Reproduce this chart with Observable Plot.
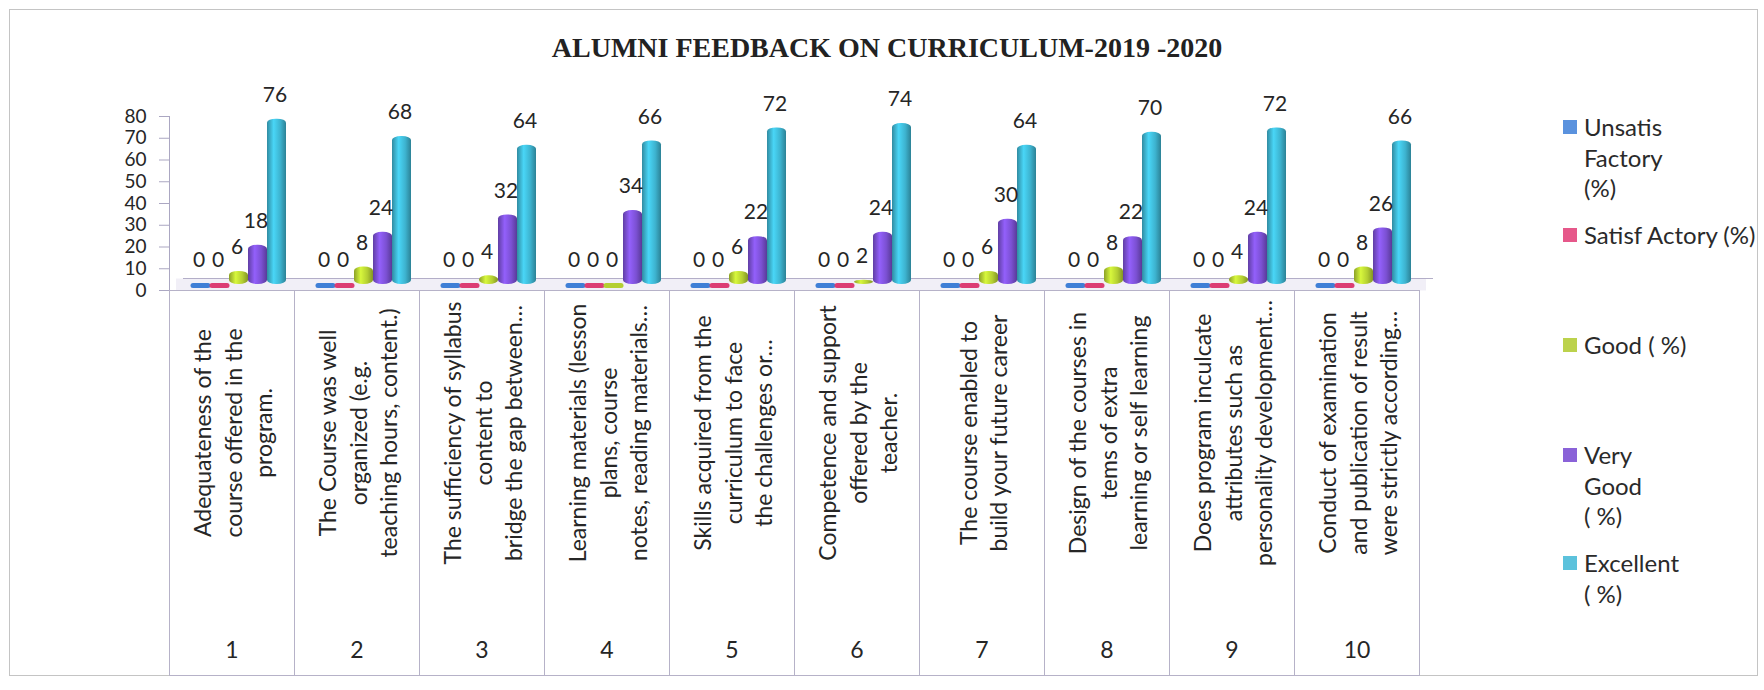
<!DOCTYPE html>
<html>
<head>
<meta charset="utf-8">
<script src="https://cdn.jsdelivr.net/npm/d3@7"></script>
<script src="https://cdn.jsdelivr.net/npm/@observablehq/plot@0.6"></script>
<style>
html,body{margin:0;padding:0;background:#fff;}
#wrap{position:relative;width:1764px;height:690px;overflow:hidden;font-family:Lato,sans-serif;color:#2a2a2a;background:#fff;}
#border{position:absolute;left:9px;top:9px;width:1747px;height:665px;border:1px solid #c4c4c4;}
#title{position:absolute;left:0;width:1774px;top:34px;text-align:center;font:bold 28px "Liberation Serif",serif;line-height:1;color:#222;}
#bars{position:absolute;left:0;top:80px;}
#table{position:absolute;left:0;top:290px;}
.leg{position:absolute;left:1563px;font-size:24px;line-height:30.5px;}
.leg .sw{position:absolute;left:0;top:8px;width:14px;height:14px;}
.leg .tx{position:absolute;left:21px;top:0;white-space:nowrap;}
svg{overflow:visible;}
</style>
</head>
<body>
<div id="wrap">
  <div id="border"></div>
  <div id="title"></div>
  <div id="bars"></div>
  <div id="table"></div>
  <div id="legend"></div>
</div>
<script>
const chartTitle = "ALUMNI FEEDBACK ON CURRICULUM-2019 -2020";
const categories = [1, 2, 3, 4, 5, 6, 7, 8, 9, 10];
const questionLabels = [
  "Adequateness of the\ncourse offered in the\nprogram.",
  "The Course was well\norganized (e.g.\nteaching hours, content.)",
  "The sufficiency of syllabus\ncontent to\nbridge the gap between…",
  "Learning materials (lesson\nplans, course\nnotes, reading materials…",
  "Skills acquired from the\ncurriculum to face\nthe challenges or…",
  "Competence and support\noffered by the\nteacher.",
  "The course enabled to\nbuild your future career",
  "Design of the courses in\ntems of extra\nlearning or self learning",
  "Does program inculcate\nattributes such as\npersonality development…",
  "Conduct of examination\nand publication of result\nwere strictly according…"
];
const seriesNames = ["Unsatis Factory (%)", "Satisf Actory (%)", "Good ( %)", "Very Good ( %)", "Excellent ( %)"];
const legendLines = [["Unsatis", "Factory", "(%)"], ["Satisf Actory (%)"], ["Good ( %)"], ["Very", "Good", "( %)"], ["Excellent", "( %)"]];
const unsatisfactory = [0, 0, 0, 0, 0, 0, 0, 0, 0, 0];
const satisfactory   = [0, 0, 0, 0, 0, 0, 0, 0, 0, 0];
const good           = [6, 8, 4, 0, 6, 2, 6, 8, 4, 8];
const veryGood       = [18, 24, 32, 34, 22, 24, 30, 22, 24, 26];
const excellent      = [76, 68, 64, 66, 72, 74, 64, 70, 72, 66];
const yTicks = [0, 10, 20, 30, 40, 50, 60, 70, 80];
const seriesColors = ["#3f7fd6", "#dc3d74", "#b4cf32", "#7b50d2", "#3db3cf"];
const legendSwatches = ["#5a92de", "#e6588a", "#bcd24c", "#8a62d8", "#5cc2dc"];

const seriesValues = [unsatisfactory, satisfactory, good, veryGood, excellent];
const rows = seriesValues.flatMap((vals, s) => vals.map((v, i) => ({q: categories[i], series: seriesNames[s], s, value: v})));
const tableRows = categories.map((q, i) => ({q, label: questionLabels[i]}));

document.getElementById("title").textContent = chartTitle;

const axisColor = "#aba7c2";
const textColor = "#262626";

const bars = Plot.plot({
  width: 1480,
  height: 230,
  marginLeft: 168,
  marginRight: 60,
  marginTop: 36,
  marginBottom: 20,
  style: {background: "transparent", color: textColor, fontFamily: "Lato", overflow: "visible"},
  fx: {domain: categories, paddingInner: 0, paddingOuter: 0, axis: null},
  x: {domain: seriesNames, paddingInner: 0.02, paddingOuter: 0.78, axis: null},
  y: {domain: [0, 80], axis: null},
  color: {domain: seriesNames, range: seriesColors},
  marks: [
    Plot.ruleY([0], {stroke: "#f1eff7", strokeWidth: 12, dx: 7, dy: -6}),
    Plot.ruleY([0], {stroke: "#b3aec8", dx: 14, dy: -12}),
    Plot.ruleY([0], {stroke: "#b3aec8"}),
    Plot.frame({anchor: "left", facetAnchor: "left", stroke: axisColor}),
    Plot.axisY({ticks: yTicks, label: null, tickSize: 10, tickPadding: 13, fontSize: 19, stroke: axisColor, fontFamily: "Lato"}),
    ...seriesNames.map((name, s) => Plot.barY(rows.filter(r => r.s === s && r.value > 0), {
      fx: "q", x: "series", y: "value", fill: `url(#cyl${s})`, dx: 7, dy: -6, rx: 9, ry: 4
    })),
    Plot.tickY(rows.filter(r => r.value === 0), {
      fx: "q", x: "series", y: "value", stroke: "series", strokeWidth: 5, dx: 7, dy: -5,
      insetLeft: 2, insetRight: 2, strokeLinecap: "round"
    }),
    Plot.text(rows, {fx: "q", x: "series", y: "value", text: d => String(d.value), dx: 5, dy: -30, fontSize: 21, fill: textColor, fontFamily: "Lato"})
  ]
});

// cylinder shading gradients
const NS = "http://www.w3.org/2000/svg";
const defs = document.createElementNS(NS, "defs");
seriesColors.forEach((c, i) => {
  const g = document.createElementNS(NS, "linearGradient");
  g.setAttribute("id", `cyl${i}`);
  g.setAttribute("x1", "0"); g.setAttribute("x2", "1"); g.setAttribute("y1", "0"); g.setAttribute("y2", "0");
  const base = d3.color(c);
  [[0, base.darker(0.7)], [0.35, base.brighter(0.5)], [0.7, base], [1, base.darker(0.9)]].forEach(([o, col]) => {
    const st = document.createElementNS(NS, "stop");
    st.setAttribute("offset", o);
    st.setAttribute("stop-color", col.formatHex());
    g.appendChild(st);
  });
  defs.appendChild(g);
});
bars.insertBefore(defs, bars.firstChild);
document.getElementById("bars").appendChild(bars);

const table = Plot.plot({
  width: 1480,
  height: 386,
  marginLeft: 168,
  marginRight: 60,
  marginTop: 0,
  marginBottom: 1,
  style: {background: "transparent", color: textColor, fontFamily: "Lato", overflow: "visible"},
  fx: {domain: categories, paddingInner: 0, paddingOuter: 0, axis: null},
  marks: [
    Plot.frame({stroke: "#b6b2c8"}),
    Plot.text(tableRows, {fx: "q", text: "label", rotate: -90, frameAnchor: "middle", dy: -50, fontSize: 23, lineHeight: 1.32, fill: textColor, fontFamily: "Lato"}),
    Plot.text(tableRows, {fx: "q", text: d => String(d.q), frameAnchor: "bottom", lineAnchor: "middle", dy: -25, fontSize: 23, fill: textColor, fontFamily: "Lato"})
  ]
});
document.getElementById("table").appendChild(table);

// legend
const legendTops = [112, 220, 330, 440, 548];
const legend = document.getElementById("legend");
seriesNames.forEach((name, s) => {
  const item = document.createElement("div");
  item.className = "leg";
  item.style.top = legendTops[s] + "px";
  const sw = document.createElement("div");
  sw.className = "sw";
  sw.style.background = legendSwatches[s];
  const tx = document.createElement("div");
  tx.className = "tx";
  tx.innerHTML = legendLines[s].join("<br>");
  item.appendChild(sw);
  item.appendChild(tx);
  legend.appendChild(item);
});
</script>
</body>
</html>
